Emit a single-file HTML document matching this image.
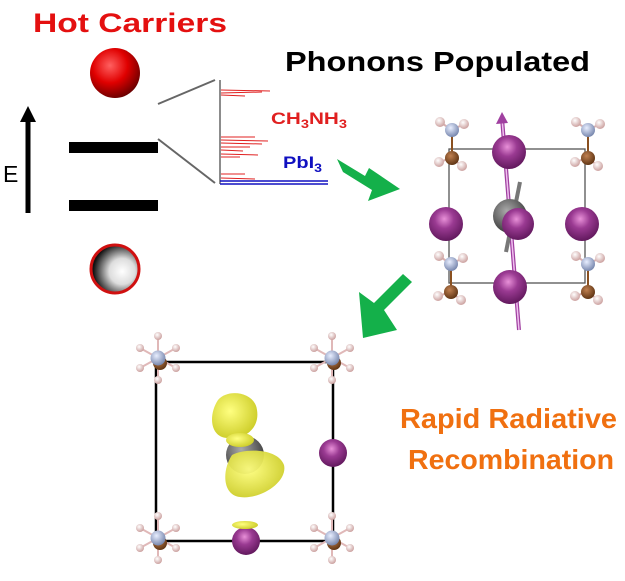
<!DOCTYPE html>
<html><head><meta charset="utf-8"><style>html,body{margin:0;padding:0;background:#fff}svg{display:block}</style></head><body>
<svg width="625" height="581" viewBox="0 0 625 581" xmlns="http://www.w3.org/2000/svg">
<defs>
<radialGradient id="red" cx="0.4" cy="0.35" r="0.7"><stop offset="0" stop-color="#ff6060"/><stop offset="0.5" stop-color="#e00000"/><stop offset="1" stop-color="#600000"/></radialGradient>
<radialGradient id="hole" cx="0.65" cy="0.55" r="0.6"><stop offset="0" stop-color="#fff"/><stop offset="0.45" stop-color="#ddd"/><stop offset="1" stop-color="#111"/></radialGradient>
<radialGradient id="pur" cx="0.45" cy="0.35" r="0.7"><stop offset="0" stop-color="#e890d8"/><stop offset="0.4" stop-color="#9a3a92"/><stop offset="1" stop-color="#5a1456"/></radialGradient>
<radialGradient id="gry" cx="0.4" cy="0.35" r="0.7"><stop offset="0" stop-color="#aaa"/><stop offset="1" stop-color="#333"/></radialGradient>
<radialGradient id="brn" cx="0.4" cy="0.35" r="0.7"><stop offset="0" stop-color="#c08050"/><stop offset="1" stop-color="#5a3010"/></radialGradient>
<radialGradient id="nit" cx="0.4" cy="0.35" r="0.7"><stop offset="0" stop-color="#e8eeff"/><stop offset="1" stop-color="#7080a8"/></radialGradient>
<radialGradient id="hyd" cx="0.4" cy="0.35" r="0.7"><stop offset="0" stop-color="#fff"/><stop offset="1" stop-color="#c89a98"/></radialGradient>
<radialGradient id="yel" cx="0.4" cy="0.4" r="0.7"><stop offset="0" stop-color="#ffff80"/><stop offset="1" stop-color="#c8c820"/></radialGradient>
<g id="mol">
<line x1="0" y1="0" x2="0" y2="28" stroke="#8a5020" stroke-width="2"/>
<line x1="0" y1="0" x2="-12" y2="-8" stroke="#d8b0b0" stroke-width="2"/><line x1="0" y1="0" x2="12" y2="-6" stroke="#d8b0b0" stroke-width="2"/>
<line x1="0" y1="28" x2="-13" y2="32" stroke="#d8b0b0" stroke-width="2"/><line x1="0" y1="28" x2="10" y2="36" stroke="#d8b0b0" stroke-width="2"/>
<circle cx="-12" cy="-8" r="5" fill="url(#hyd)"/><circle cx="12" cy="-6" r="5" fill="url(#hyd)"/>
<circle cx="-13" cy="32" r="5" fill="url(#hyd)"/><circle cx="10" cy="36" r="5" fill="url(#hyd)"/>
<circle cx="0" cy="0" r="7" fill="url(#nit)"/><circle cx="0" cy="28" r="7" fill="url(#brn)"/>
</g>
<g id="star">
<line x1="0" y1="-22" x2="0" y2="22" stroke="#e0b8b8" stroke-width="2"/>
<line x1="-18" y1="-10" x2="18" y2="10" stroke="#e0b8b8" stroke-width="2"/><line x1="18" y1="-10" x2="-18" y2="10" stroke="#e0b8b8" stroke-width="2"/>
<circle cx="0" cy="-22" r="4" fill="url(#hyd)"/><circle cx="0" cy="22" r="4" fill="url(#hyd)"/>
<circle cx="-18" cy="-10" r="4" fill="url(#hyd)"/><circle cx="18" cy="10" r="4" fill="url(#hyd)"/>
<circle cx="18" cy="-10" r="4" fill="url(#hyd)"/><circle cx="-18" cy="10" r="4" fill="url(#hyd)"/>
<circle cx="2" cy="5" r="7" fill="url(#brn)"/><circle cx="0" cy="0" r="7.5" fill="url(#nit)"/>
</g>
</defs>
<text x="33" y="32" textLength="194" lengthAdjust="spacingAndGlyphs" font-family="Liberation Sans, sans-serif" font-weight="bold" font-size="27" fill="#e41010">Hot Carriers</text>
<text x="285" y="71" textLength="305" lengthAdjust="spacingAndGlyphs" font-family="Liberation Sans, sans-serif" font-weight="bold" font-size="28" fill="#000">Phonons Populated</text>
<circle cx="115" cy="73" r="25" fill="url(#red)"/>
<circle cx="115" cy="269" r="24" fill="url(#hole)" stroke="#d01010" stroke-width="3"/>
<line x1="28" y1="213" x2="28" y2="120" stroke="#000" stroke-width="5"/>
<polygon points="28,106 20,122 36,122" fill="#000"/>
<text x="3" y="182" font-family="Liberation Sans, sans-serif" font-size="23" fill="#000">E</text>
<rect x="69" y="142" width="89" height="11" fill="#000"/>
<rect x="69" y="200" width="89" height="11" fill="#000"/>
<line x1="158" y1="104" x2="215" y2="80" stroke="#666" stroke-width="2"/>
<line x1="158" y1="139" x2="215" y2="183" stroke="#666" stroke-width="2"/>
<line x1="220" y1="80" x2="220" y2="184" stroke="#666" stroke-width="1.5"/>
<g stroke="#e02020" stroke-width="1">
<line x1="221" y1="90" x2="270" y2="91"/><line x1="221" y1="93" x2="262" y2="92"/><line x1="221" y1="95" x2="245" y2="96"/>
<line x1="221" y1="137" x2="255" y2="137"/><line x1="221" y1="140" x2="268" y2="141"/><line x1="221" y1="143" x2="262" y2="144"/><line x1="221" y1="147" x2="250" y2="147"/><line x1="221" y1="150" x2="243" y2="151"/><line x1="221" y1="154" x2="258" y2="155"/><line x1="221" y1="157" x2="240" y2="157"/><line x1="221" y1="174" x2="245" y2="174"/><line x1="221" y1="178" x2="255" y2="179"/>
</g>
<line x1="220" y1="181" x2="328" y2="181" stroke="#1010c0" stroke-width="1.5"/>
<line x1="220" y1="184" x2="328" y2="184" stroke="#1010c0" stroke-width="1.5"/>
<text x="271" y="124" textLength="76" lengthAdjust="spacingAndGlyphs" font-family="Liberation Sans, sans-serif" font-weight="bold" font-size="17" fill="#e02020">CH<tspan font-size="12" dy="4">3</tspan><tspan dy="-4">NH</tspan><tspan font-size="12" dy="4">3</tspan></text>
<text x="283" y="168" textLength="39" lengthAdjust="spacingAndGlyphs" font-family="Liberation Sans, sans-serif" font-weight="bold" font-size="17" fill="#1010c0">PbI<tspan font-size="12" dy="4">3</tspan></text>
<polygon points="337,159 365,176 369,168 400,189 368,201 372,190 343,172" fill="#14b04a"/>
<polygon points="403,274 412,282 384,310 397,330 363,338 359,292 374,303" fill="#14b04a"/>
<rect x="449" y="149" width="136" height="134" fill="none" stroke="#555" stroke-width="1.3"/>
<use href="#mol" x="452" y="130"/><use href="#mol" x="588" y="130"/>
<use href="#mol" x="451" y="264"/><use href="#mol" x="588" y="264"/>
<line x1="502" y1="118" x2="519" y2="330" stroke="#a040a0" stroke-width="4"/>
<line x1="502" y1="118" x2="519" y2="330" stroke="#f0c0f0" stroke-width="1.5"/>
<polygon points="502,112 496,124 508,123" fill="#a040a0"/>
<line x1="520" y1="182" x2="506" y2="252" stroke="#777" stroke-width="4"/>
<circle cx="446" cy="224" r="17" fill="url(#pur)"/><circle cx="582" cy="224" r="17" fill="url(#pur)"/>
<circle cx="509" cy="152" r="17" fill="url(#pur)"/><circle cx="510" cy="287" r="17" fill="url(#pur)"/>
<circle cx="510" cy="216" r="17" fill="url(#gry)"/><circle cx="518" cy="224" r="16" fill="url(#pur)"/>
<rect x="156" y="362" width="177" height="179" fill="none" stroke="#000" stroke-width="2.5"/>
<use href="#star" x="158" y="358"/><use href="#star" x="332" y="358"/>
<use href="#star" x="158" y="538"/><use href="#star" x="332" y="538"/>
<circle cx="333" cy="453" r="14" fill="url(#pur)"/>
<circle cx="246" cy="541" r="14" fill="url(#pur)"/>
<ellipse cx="245" cy="525" rx="13" ry="4" fill="url(#yel)"/>
<path d="M218,400 C228,388 255,392 257,410 C260,428 245,440 228,438 C210,438 208,415 218,400 Z" fill="url(#yel)"/>
<circle cx="245" cy="455" r="19" fill="url(#gry)"/>
<ellipse cx="240" cy="440" rx="14" ry="7" fill="url(#yel)"/>
<path d="M232,455 C245,448 278,448 284,465 C288,482 260,500 240,497 C222,495 222,470 232,455 Z" fill="url(#yel)" opacity="0.95"/>
<text x="400" y="428" textLength="217" lengthAdjust="spacingAndGlyphs" font-family="Liberation Sans, sans-serif" font-weight="bold" font-size="28" fill="#f07010">Rapid Radiative</text>
<text x="408" y="469" textLength="206" lengthAdjust="spacingAndGlyphs" font-family="Liberation Sans, sans-serif" font-weight="bold" font-size="28" fill="#f07010">Recombination</text>
</svg>
</body></html>
